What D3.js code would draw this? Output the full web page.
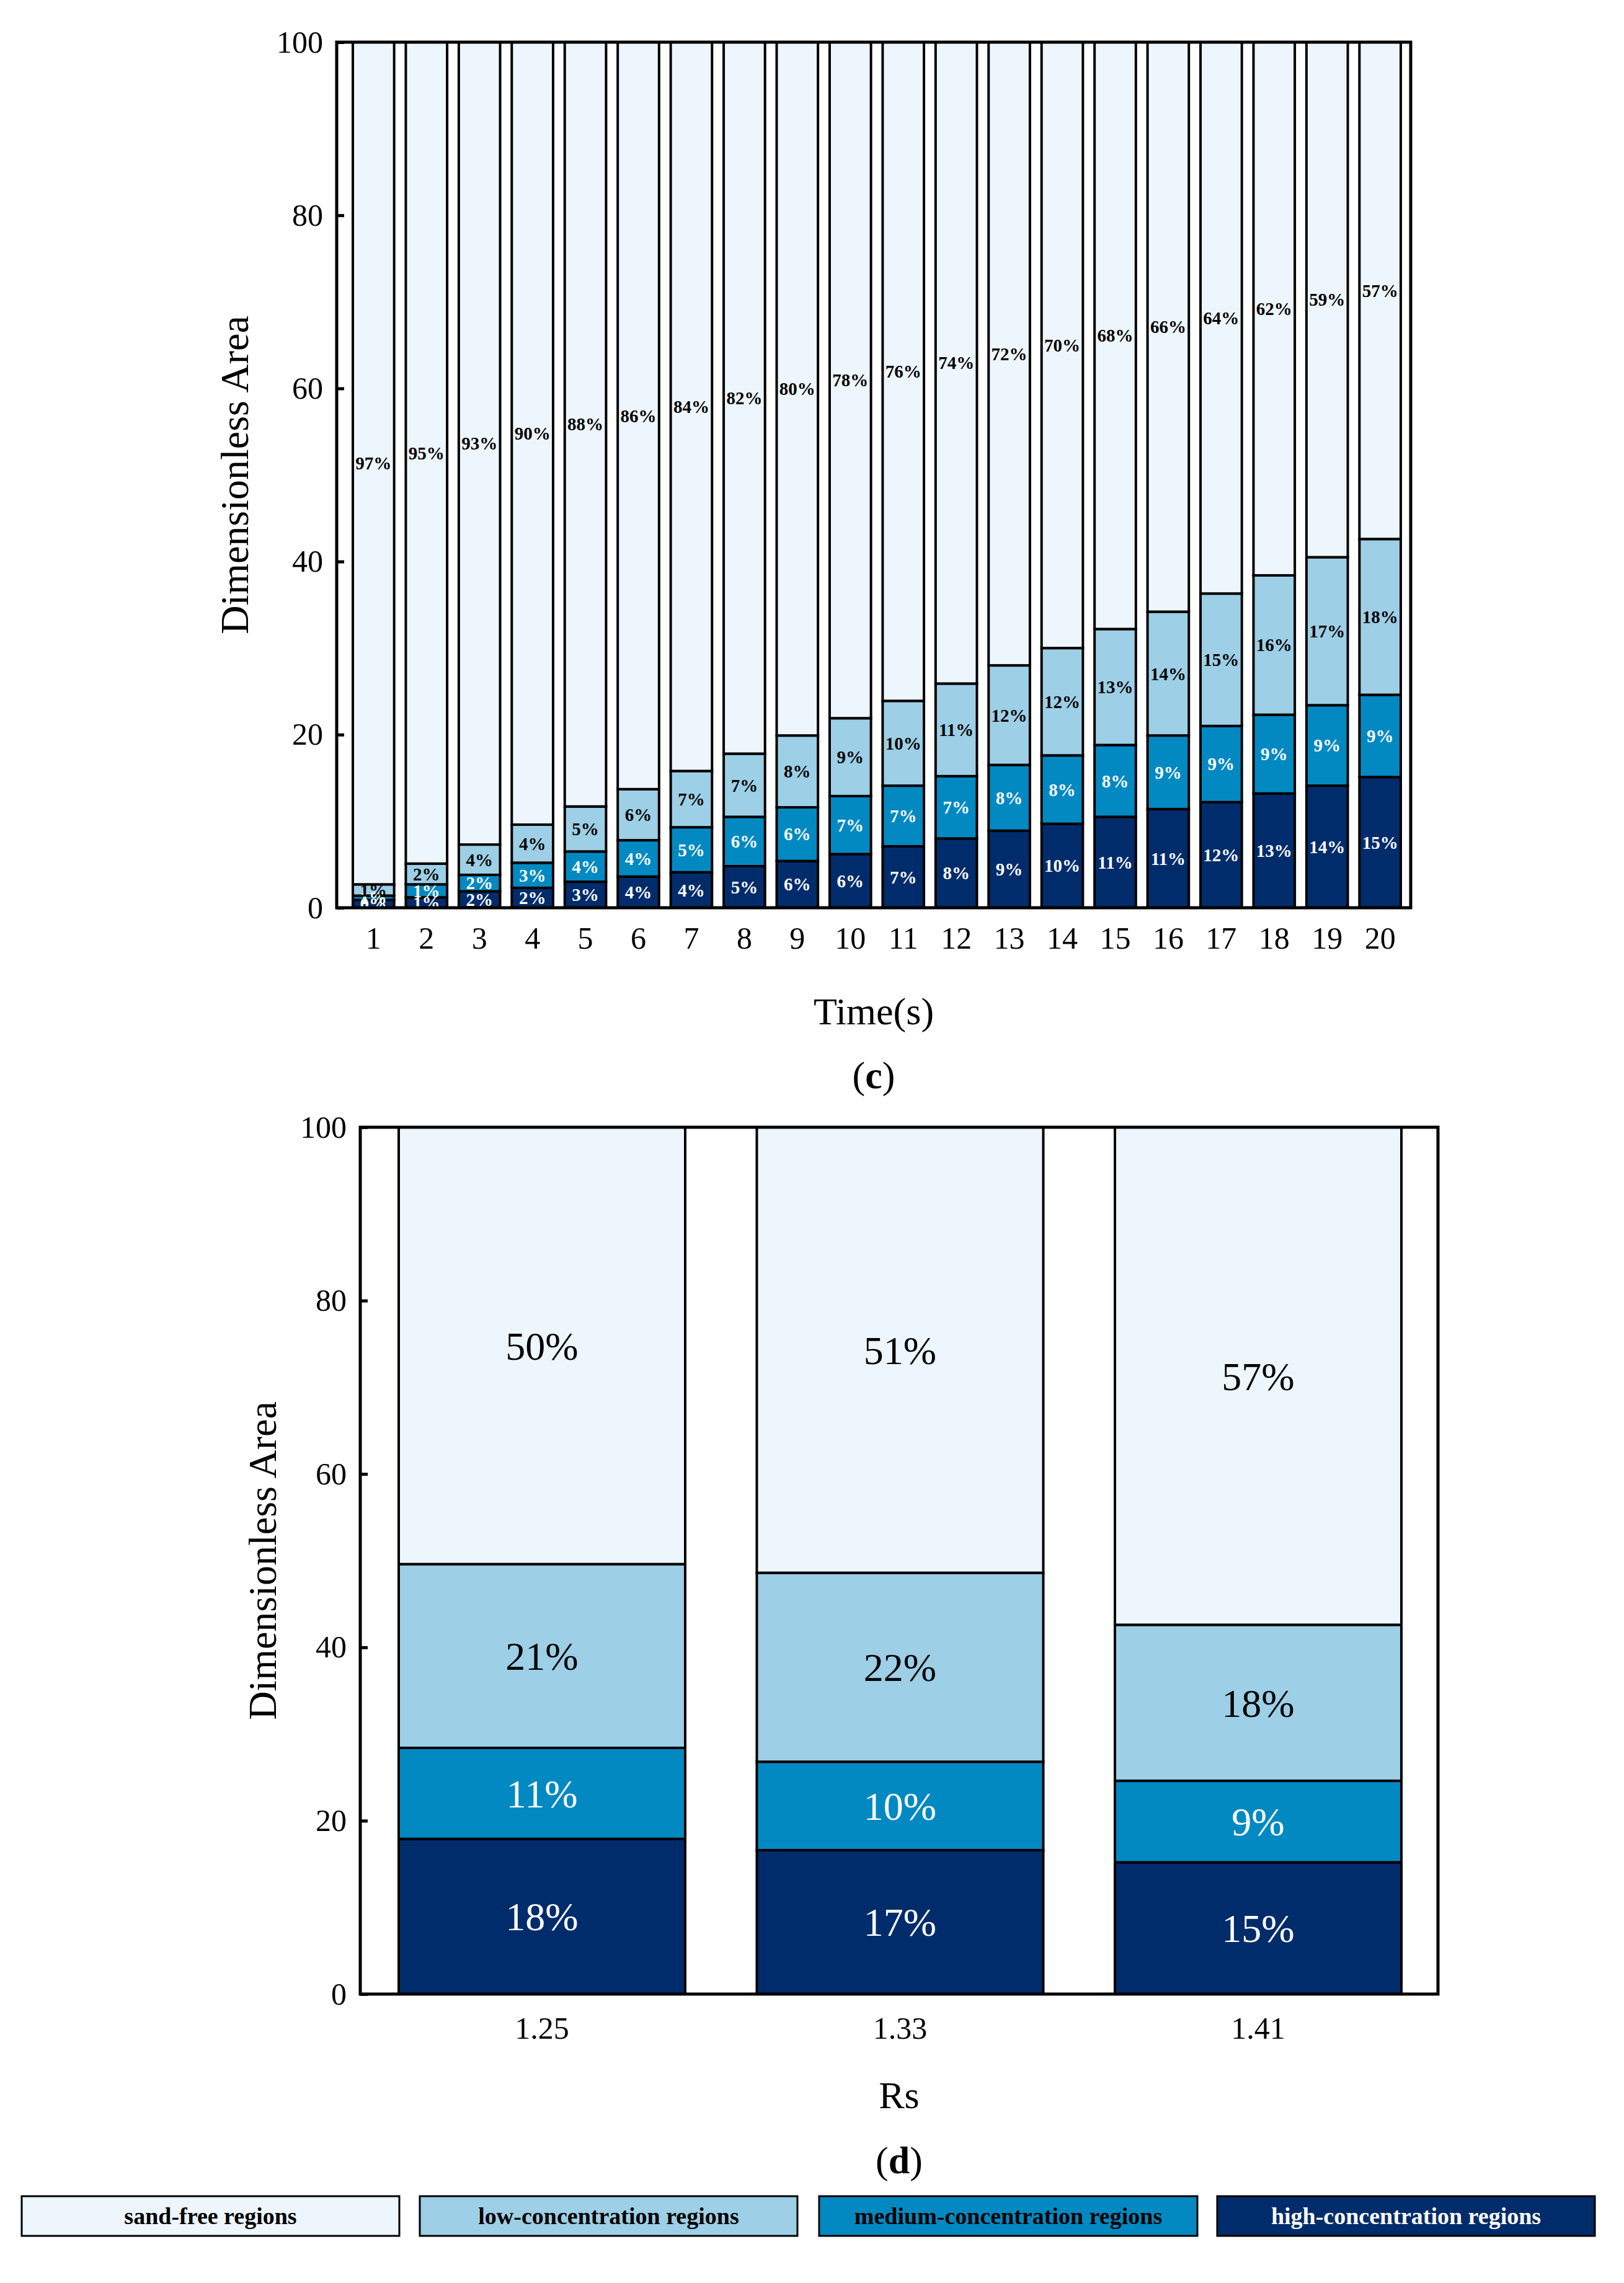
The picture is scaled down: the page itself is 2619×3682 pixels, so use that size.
<!DOCTYPE html><html><head><meta charset="utf-8">
<script src="https://cdn.jsdelivr.net/npm/d3@7"></script>
<style>body{margin:0;background:#fff}svg,svg text{font-family:"Liberation Serif",Tinos,"Times New Roman",serif !important}</style></head><body>
<script>
const series = ["sand-free regions","low-concentration regions","medium-concentration regions","high-concentration regions"];
const colors = ["#EEF6FD","#9DCFE6","#0389C2","#012C6B"];
const times = d3.range(1,21).map(String);
const highTop = [0.9,1.2,1.9,2.3,3.0,3.6,4.1,4.8,5.4,6.2,7.1,8.0,8.9,9.7,10.5,11.4,12.2,13.2,14.1,15.1];
const medTop  = [1.4,2.7,3.8,5.2,6.5,7.8,9.3,10.5,11.6,12.9,14.1,15.2,16.5,17.6,18.8,19.9,21.0,22.3,23.4,24.6];
const lowTop  = [2.7,5.1,7.3,9.6,11.7,13.7,15.8,17.8,19.9,21.9,23.9,25.9,28.0,30.0,32.2,34.2,36.3,38.4,40.5,42.6];
const highLbl = ["0%","1%","2%","2%","3%","4%","4%","5%","6%","6%","7%","8%","9%","10%","11%","11%","12%","13%","14%","15%"];
const medLbl  = ["1%","1%","2%","3%","4%","4%","5%","6%","6%","7%","7%","7%","8%","8%","8%","9%","9%","9%","9%","9%"];
const lowLbl  = ["1%","2%","4%","4%","5%","6%","7%","7%","8%","9%","10%","11%","12%","12%","13%","14%","15%","16%","17%","18%"];
const sandLbl = ["97%","95%","93%","90%","88%","86%","84%","82%","80%","78%","76%","74%","72%","70%","68%","66%","64%","62%","59%","57%"];
const rsCats = ["1.25","1.33","1.41"];
const rsHighTop = [17.9,16.6,15.2];
const rsMedTop = [28.4,26.8,24.6];
const rsLowTop = [49.6,48.6,42.6];
const rsHighLbl = ["18%","17%","15%"], rsMedLbl=["11%","10%","9%"], rsLowLbl=["21%","22%","18%"], rsSandLbl=["50%","51%","57%"];
const yTicks = [0,20,40,60,80,100];
const FF = '"Liberation Serif", Tinos, "Times New Roman", serif';

const svg = d3.select("body").append("svg").attr("width",2619).attr("height",3682).attr("font-family",FF);

function panel(o){
  const {cats,hi,me,lo,labels,x0,x1,y0,y1,range,pad,fs,bold,tickFs,xTitle,xTitleY,panelLbl,panelY,yTitleX,tickY} = o;
  const x = d3.scaleBand().domain(cats).range(range).paddingInner(pad).paddingOuter(0);
  const y = d3.scaleLinear().domain([0,100]).range([y1,y0]);
  const g = svg.append("g");
  cats.forEach((c,i)=>{
    const segs = [[0,hi[i]],[hi[i],me[i]],[me[i],lo[i]],[lo[i],100]];
    const cols = [colors[3],colors[2],colors[1],colors[0]];
    const lbl = [labels[3][i],labels[2][i],labels[1][i],labels[0][i]];
    const tc = ["#fff","#fff","#000","#000"];
    segs.forEach((s,k)=>{
      g.append("rect").attr("x",x(c)).attr("width",x.bandwidth())
        .attr("y",y(s[1])).attr("height",y(s[0])-y(s[1]))
        .attr("fill",cols[k]).attr("stroke","#000").attr("stroke-width",o.sw);
    });
    segs.forEach((s,k)=>{
      g.append("text").attr("x",x(c)+x.bandwidth()/2).attr("y",y((s[0]+s[1])/2))
        .attr("dy","0.35em").attr("text-anchor","middle").attr("font-size",fs).attr("font-family",FF)
        .attr("font-weight",bold?"bold":"normal").attr("fill",tc[k]).text(lbl[k]);
    });
  });
  svg.append("rect").attr("x",x0).attr("y",y0).attr("width",x1-x0).attr("height",y1-y0)
    .attr("fill","none").attr("stroke","#000").attr("stroke-width",5);
  const ya = svg.append("g").attr("transform",`translate(${x0},0)`)
    .call(d3.axisLeft(y).tickValues(yTicks).tickSize(-12).tickPadding(22));
  ya.select(".domain").remove();
  ya.selectAll("line").attr("stroke","#000").attr("stroke-width",5);
  ya.selectAll("text").attr("font-size",tickFs).attr("font-family",FF).attr("fill","#000");
  const xa = svg.append("g").attr("transform",`translate(0,${y1})`)
    .call(d3.axisBottom(x).tickSize(0).tickPadding(tickY));
  xa.select(".domain").remove();
  xa.selectAll("text").attr("font-size",tickFs).attr("font-family",FF).attr("fill","#000");
  svg.append("text").attr("x",(x0+x1)/2).attr("y",xTitleY).attr("text-anchor","middle").attr("font-size",62).attr("font-family",FF).text(xTitle);
  svg.append("text").attr("transform",`translate(${yTitleX},${(y0+y1)/2}) rotate(-90)`).attr("text-anchor","middle").attr("font-size",64).attr("font-family",FF).text("Dimensionless Area");
  const pl = svg.append("text").attr("x",(x0+x1)/2).attr("y",panelY).attr("text-anchor","middle").attr("font-size",62).attr("font-family",FF);
  pl.append("tspan").text("(");pl.append("tspan").attr("font-weight","bold").text(panelLbl);pl.append("tspan").text(")");
}

panel({cats:times,hi:highTop,me:medTop,lo:lowTop,labels:[sandLbl,lowLbl,medLbl,highLbl],
  x0:543,x1:2275,y0:68,y1:1464,range:[569,2259],pad:0.22,fs:29,bold:true,tickFs:50,sw:4,
  xTitle:"Time(s)",xTitleY:1652,panelLbl:"c",panelY:1755,yTitleX:400,tickY:30});
panel({cats:rsCats,hi:rsHighTop,me:rsMedTop,lo:rsLowTop,labels:[rsSandLbl,rsLowLbl,rsMedLbl,rsHighLbl],
  x0:581,x1:2319,y0:1818,y1:3216,range:[643,2260],pad:0.2,fs:64,bold:false,tickFs:50,sw:4,
  xTitle:"Rs",xTitleY:3400,panelLbl:"d",panelY:3505,yTitleX:445,tickY:36});

const leg = [[35,644],[677,1286],[1321,1931],[1963,2572]];
series.forEach((s,i)=>{
  svg.append("rect").attr("x",leg[i][0]).attr("y",3542).attr("width",leg[i][1]-leg[i][0]).attr("height",64)
    .attr("fill",colors[i]).attr("stroke","#000").attr("stroke-width",3);
  svg.append("text").attr("x",(leg[i][0]+leg[i][1])/2).attr("y",3574).attr("dy","0.35em")
    .attr("text-anchor","middle").attr("font-size",38).attr("font-weight","bold").attr("font-family",FF)
    .attr("fill",i==3?"#fff":"#000").text(s);
});
</script></body></html>
